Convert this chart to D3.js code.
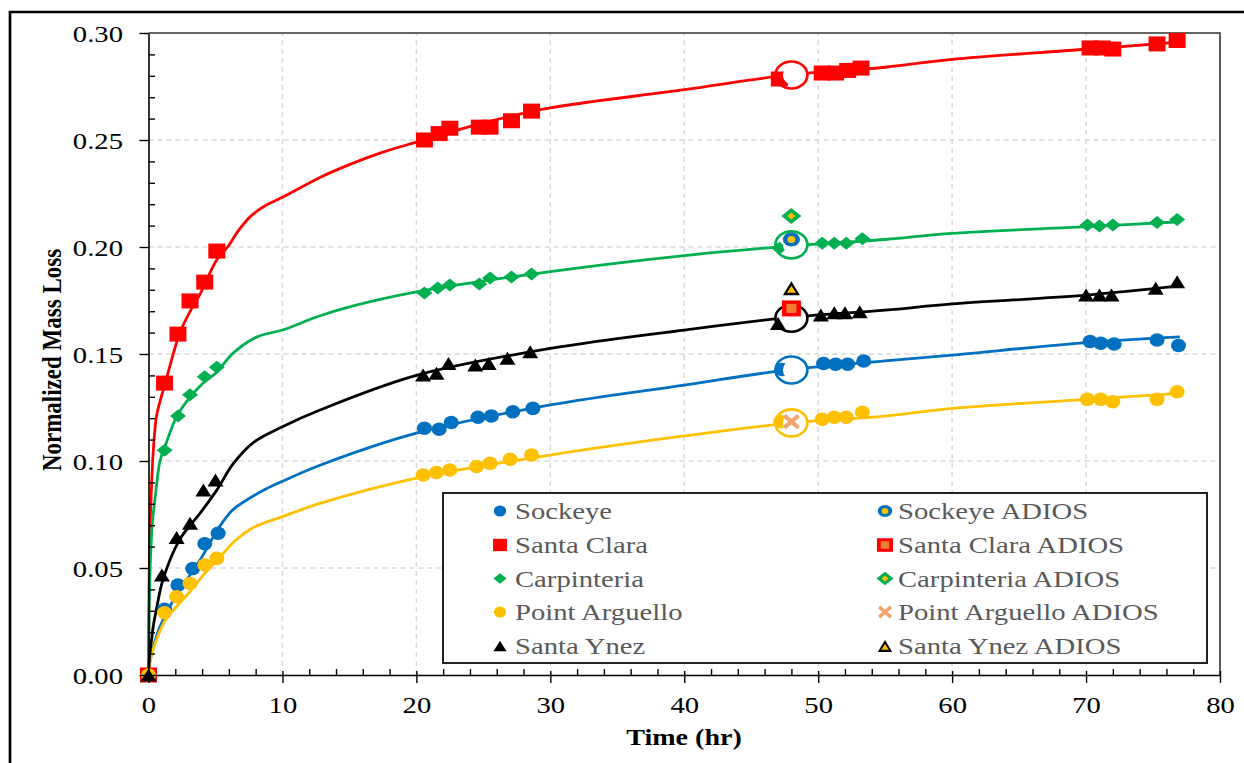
<!DOCTYPE html>
<html>
<head>
<meta charset="utf-8">
<script src="https://cdn.jsdelivr.net/npm/d3@7"></script>
<style>
  html, body { margin: 0; padding: 0; background: #fff; }
  svg { display: block; }
  text { font-family: "Liberation Serif", "Times New Roman", serif; }
</style>
</head>
<body>
<svg id="chart" width="1244" height="763"></svg>
<script>
// ---------------- DATA ----------------
const xTicks = [0, 10, 20, 30, 40, 50, 60, 70, 80];
const yTicks = [0, 0.05, 0.10, 0.15, 0.20, 0.25, 0.30];

const seriesNames = ["Sockeye", "Santa Clara", "Carpinteria", "Point Arguello", "Santa Ynez"];
const seriesColors = ["#0070C0", "#FF0000", "#00B050", "#FFC000", "#000000"];
const seriesShapes = ["circle", "square", "diamond", "circle", "triangle"];

const sockeyeT = [0, 1.2, 2.2, 3.3, 4.2, 5.2, 20.6, 21.7, 22.6, 24.6, 25.6, 27.2, 28.7, 47.3, 50.4, 51.3, 52.2, 53.4, 70.3, 71.1, 72.1, 75.3, 76.9];
const sockeyeV = [0, 0.0307, 0.042, 0.0498, 0.0613, 0.0662, 0.1153, 0.1148, 0.118, 0.1204, 0.121, 0.123, 0.1246, 0.1428, 0.1456, 0.1452, 0.1452, 0.1467, 0.1558, 0.155, 0.1547, 0.1565, 0.154];

const santaClaraT = [0, 1.2, 2.2, 3.1, 4.2, 5.1, 20.6, 21.7, 22.5, 24.7, 25.5, 27.1, 28.6, 47.1, 50.3, 51.3, 52.2, 53.2, 70.3, 71.2, 72.0, 75.3, 76.8];
const santaClaraV = [0, 0.1364, 0.1593, 0.1748, 0.1836, 0.1981, 0.250, 0.253, 0.2555, 0.256, 0.256, 0.259, 0.2635, 0.2785, 0.2813, 0.2813, 0.2825, 0.2836, 0.293, 0.293, 0.2925, 0.2949, 0.2965];

const carpinteriaT = [0, 1.2, 2.2, 3.1, 4.2, 5.1, 20.6, 21.6, 22.5, 24.7, 25.5, 27.1, 28.6, 47.1, 50.3, 51.2, 52.1, 53.3, 70.1, 71.0, 72.0, 75.3, 76.8];
const carpinteriaV = [0, 0.105, 0.121, 0.131, 0.1394, 0.1438, 0.1785, 0.1808, 0.1822, 0.1827, 0.1855, 0.186, 0.1874, 0.1994, 0.2017, 0.2017, 0.2017, 0.2039, 0.2103, 0.2098, 0.2103, 0.2114, 0.2129];

const pointArguelloT = [0, 1.2, 2.1, 3.1, 4.2, 5.1, 20.5, 21.5, 22.5, 24.5, 25.5, 27.0, 28.6, 47.2, 50.3, 51.2, 52.1, 53.3, 70.1, 71.1, 72.0, 75.3, 76.8];
const pointArguelloV = [0, 0.0291, 0.0366, 0.0428, 0.0514, 0.0545, 0.0935, 0.0946, 0.0958, 0.0974, 0.0989, 0.1008, 0.1028, 0.1184, 0.1195, 0.1204, 0.1204, 0.1228, 0.1288, 0.1288, 0.1277, 0.1288, 0.1324];

const santaYnezT = [0, 1.0, 2.1, 3.1, 4.1, 5.0, 20.5, 21.5, 22.4, 24.4, 25.4, 26.8, 28.5, 47.0, 50.2, 51.2, 52.0, 53.1, 70.0, 71.0, 71.9, 75.2, 76.8];
const santaYnezV = [0, 0.0467, 0.0643, 0.0709, 0.0864, 0.0911, 0.1402, 0.141, 0.1456, 0.1449, 0.1456, 0.148, 0.151, 0.1643, 0.1682, 0.1693, 0.1693, 0.1698, 0.1776, 0.1776, 0.1776, 0.1807, 0.1838];

// fitted curves
const sockeyeFitT = [0, 0.1, 0.36, 0.86, 1.85, 3.85, 5.3, 6.3, 7.6, 8.8, 10, 12.8, 20, 30, 40, 48, 55, 60, 70, 77];
const sockeyeFitV = [0, 0.006, 0.013, 0.0226, 0.035, 0.0537, 0.0693, 0.0772, 0.0828, 0.087, 0.0905, 0.098, 0.113, 0.1262, 0.1355, 0.1428, 0.1468, 0.1495, 0.1553, 0.158];

const santaClaraFitT = [0, 0.05, 0.12, 0.24, 0.36, 0.6, 1.0, 1.36, 2.35, 3.2, 3.85, 5.1, 5.9, 6.7, 7.6, 8.8, 10, 12.8, 15, 17.5, 20, 25, 30, 40, 48, 55, 60, 70, 77];
const santaClaraFitV = [0, 0.045, 0.07, 0.09, 0.105, 0.121, 0.131, 0.139, 0.16, 0.171, 0.178, 0.194, 0.2, 0.2075, 0.2142, 0.2196, 0.2232, 0.2325, 0.2385, 0.2443, 0.249, 0.258, 0.265, 0.2735, 0.2805, 0.284, 0.2877, 0.2924, 0.2958];

const carpinteriaFitT = [0, 0.05, 0.15, 0.3, 0.5, 0.86, 1.3, 2.1, 3.0, 4.0, 5.1, 6.3, 8.1, 10, 12.6, 15, 20, 30, 40, 48, 55, 60, 70, 77];
const carpinteriaFitV = [0, 0.03, 0.055, 0.072, 0.083, 0.1, 0.108, 0.1207, 0.129, 0.136, 0.1415, 0.1503, 0.158, 0.1612, 0.1674, 0.172, 0.179, 0.1885, 0.196, 0.2005, 0.2035, 0.2064, 0.2095, 0.2118];

const pointArguelloFitT = [0, 0.1, 0.4, 1.2, 2.1, 3.1, 4.2, 5.1, 6.5, 7.8, 10, 12.8, 20, 30, 40, 48, 55, 60, 70, 77];
const pointArguelloFitV = [0, 0.006, 0.013, 0.025, 0.032, 0.039, 0.0475, 0.0535, 0.063, 0.0688, 0.074, 0.0802, 0.092, 0.1028, 0.1117, 0.1178, 0.121, 0.1246, 0.1288, 0.1316];

const santaYnezFitT = [0, 0.1, 0.24, 0.36, 0.6, 1.1, 2.35, 3.85, 5.1, 6.3, 7.8, 10, 12.8, 20, 30, 40, 48, 55, 60, 70, 77];
const santaYnezFitV = [0, 0.01, 0.017, 0.023, 0.031, 0.045, 0.0635, 0.0756, 0.0864, 0.0985, 0.1085, 0.116, 0.1238, 0.14, 0.1526, 0.1612, 0.1672, 0.1705, 0.1734, 0.1775, 0.1818];

// ADIOS values at 48 h
const adiosNames = ["Sockeye ADIOS", "Santa Clara ADIOS", "Carpinteria ADIOS", "Point Arguello ADIOS", "Santa Ynez ADIOS"];
const adiosT = [48, 48, 48, 48, 48];
const adiosV = [0.2035, 0.1713, 0.2145, 0.1184, 0.1807];

// highlighted 48 h points on each fitted curve (open rings)
const ringT = [48, 48, 48, 48, 48];
const ringV = [0.1425, 0.2804, 0.201, 0.1178, 0.1667];

// ---------------- SETUP ----------------
const SX = 1.22; // horizontal stretch of glyphs in the reference
const FS = 23.5;
const svg = d3.select("#chart");
const x = d3.scaleLinear().domain([0, 80]).range([148.5, 1220]);
const y = d3.scaleLinear().domain([0, 0.30]).range([675, 33]);

const seriesT = [sockeyeT, santaClaraT, carpinteriaT, pointArguelloT, santaYnezT];
const seriesV = [sockeyeV, santaClaraV, carpinteriaV, pointArguelloV, santaYnezV];
const fitT = [sockeyeFitT, santaClaraFitT, carpinteriaFitT, pointArguelloFitT, santaYnezFitT];
const fitV = [sockeyeFitV, santaClaraFitV, carpinteriaFitV, pointArguelloFitV, santaYnezFitV];

function shapePath(type, w, h) {
  switch (type) {
    case "circle": return `M${-w/2},0A${w/2},${h/2} 0 1,0 ${w/2},0A${w/2},${h/2} 0 1,0 ${-w/2},0Z`;
    case "square": return `M${-w/2},${-h/2}H${w/2}V${h/2}H${-w/2}Z`;
    case "diamond": return `M0,${-h/2}L${w/2},0L0,${h/2}L${-w/2},0Z`;
    case "triangle": return `M0,${-h/2}L${w/2},${h/2}L${-w/2},${h/2}Z`;
  }
}
const markerSize = {
  circle: [15, 13.5], square: [17, 15], diamond: [16, 13], triangle: [16, 13]
};

// outer border
svg.append("path").attr("d", "M10,763V12H1244").attr("fill", "none")
  .attr("stroke", "#000").attr("stroke-width", 2.7);

// ---------------- GRID ----------------
const grid = svg.append("g");
grid.selectAll("line.gx").data(xTicks.filter(d => d > 0 && d < 80)).enter()
  .append("line").attr("x1", d => x(d)).attr("x2", d => x(d))
  .attr("y1", y(0)).attr("y2", y(0.30))
  .attr("stroke", "#D9D9D9").attr("stroke-width", 1.5).attr("stroke-dasharray", "5,4");
grid.selectAll("line.gy").data(yTicks.filter(d => d > 0 && d < 0.3)).enter()
  .append("line").attr("y1", d => y(d)).attr("y2", d => y(d))
  .attr("x1", x(0)).attr("x2", x(80))
  .attr("stroke", "#D9D9D9").attr("stroke-width", 1.5).attr("stroke-dasharray", "5,4");

// plot frame (top + right)
svg.append("path").attr("d", `M${x(0)},${y(0.30)}H${x(80)}V${y(0)}`)
  .attr("fill", "none").attr("stroke", "#333").attr("stroke-width", 1.6);

// ---------------- FIT LINES ----------------
const line = d3.line().x(d => x(d[0])).y(d => y(d[1])).curve(d3.curveCatmullRom.alpha(0.5));
seriesNames.forEach((n, i) => {
  const pts = fitT[i].map((t, k) => [t, fitV[i][k]]);
  svg.append("path").attr("d", line(pts)).attr("fill", "none")
    .attr("stroke", seriesColors[i]).attr("stroke-width", 2.8);
});

// ring white fills (hide the line inside)
seriesNames.forEach((n, i) => {
  svg.append("ellipse").attr("cx", x(ringT[i])).attr("cy", y(ringV[i]))
    .attr("rx", 16).attr("ry", 13.5).attr("fill", "#fff");
});

// ---------------- DATA MARKERS ----------------
seriesNames.forEach((n, i) => {
  const [w, h] = markerSize[seriesShapes[i]];
  svg.append("g").selectAll("path").data(seriesT[i].map((t, k) => [t, seriesV[i][k]]))
    .enter().append("path")
    .attr("transform", d => `translate(${x(d[0])},${y(d[1])})`)
    .attr("d", shapePath(seriesShapes[i], w, h))
    .attr("fill", seriesColors[i]);
});

// rings: inner white + stroke
seriesNames.forEach((n, i) => {
  svg.append("ellipse").attr("cx", x(ringT[i]) + 1).attr("cy", y(ringV[i]))
    .attr("rx", 9.5).attr("ry", 9.5).attr("fill", "#fff");
  svg.append("ellipse").attr("cx", x(ringT[i])).attr("cy", y(ringV[i]))
    .attr("rx", 16).attr("ry", 13.5).attr("fill", "none")
    .attr("stroke", seriesColors[i]).attr("stroke-width", 2.6);
});

// ---------------- ADIOS MARKERS ----------------
function drawAdios(g, i, cx, cy, s) {
  const gg = g.append("g").attr("transform", `translate(${cx},${cy}) scale(${s})`);
  if (i === 0) {
    gg.append("path").attr("d", shapePath("circle", 17, 14)).attr("fill", "#0070C0");
    gg.append("path").attr("d", shapePath("circle", 8, 7)).attr("fill", "#FFC000");
  } else if (i === 1) {
    gg.append("path").attr("d", shapePath("square", 19, 16)).attr("fill", "#FF0000");
    gg.append("path").attr("d", shapePath("square", 10, 9)).attr("fill", "#ED7D31");
  } else if (i === 2) {
    gg.append("path").attr("d", shapePath("diamond", 20, 16)).attr("fill", "#00B050");
    gg.append("path").attr("d", shapePath("diamond", 8, 7)).attr("fill", "#FFC000");
  } else if (i === 3) {
    gg.append("path").attr("d", "M-7,-6L7,6M-7,6L7,-6").attr("stroke", "#F4A26E")
      .attr("stroke-width", 4).attr("fill", "none");
  } else {
    gg.append("path").attr("d", shapePath("triangle", 17, 14)).attr("fill", "#000");
    gg.append("path").attr("d", "M0,-2.5L4.5,4.5L-4.5,4.5Z").attr("fill", "#FFC000");
  }
}
adiosNames.forEach((n, i) => drawAdios(svg, i, x(adiosT[i]), y(adiosV[i]), 1));

// ---------------- AXES ----------------
const yAxis = svg.append("g").attr("transform", `translate(${x(0)},0)`);
yAxis.call(d3.axisLeft(y).tickValues(yTicks).tickSizeInner(9).tickSizeOuter(0).tickFormat(d3.format(".2f")));
const yMinor = d3.range(1, 30).map(d => d / 100).filter(d => Math.round(d * 100) % 5 !== 0);
svg.append("g").attr("transform", `translate(${x(0)},0)`)
  .call(d3.axisLeft(y).tickValues(yMinor).tickSizeInner(-6.5).tickSizeOuter(0).tickFormat(""))
  .select(".domain").remove();

const xAxis = svg.append("g").attr("transform", `translate(0,${y(0)})`);
xAxis.call(d3.axisBottom(x).tickValues(xTicks).tickSizeInner(8).tickSizeOuter(0).tickFormat(d3.format("d")));
svg.append("g").attr("transform", `translate(0,${y(0)})`)
  .call(d3.axisBottom(x).tickValues(xTicks).tickSizeInner(-4).tickSizeOuter(0).tickFormat(""))
  .select(".domain").remove();
const xMinor = d3.range(2, 80, 2).filter(d => d % 10 !== 0);
svg.append("g").attr("transform", `translate(0,${y(0)})`)
  .call(d3.axisBottom(x).tickValues(xMinor).tickSizeInner(-6).tickSizeOuter(0).tickFormat(""))
  .select(".domain").remove();

svg.selectAll(".domain").attr("stroke", "#000").attr("stroke-width", 1.6);
svg.selectAll(".tick line").attr("stroke", "#000").attr("stroke-width", 1.4);

yAxis.selectAll(".tick text")
  .attr("x", -25.5 / SX).attr("dy", null).attr("y", 8.5)
  .attr("transform", `scale(${SX},1)`)
  .attr("font-size", FS).attr("fill", "#000");
xAxis.selectAll(".tick text")
  .attr("dy", null).attr("y", 38)
  .attr("transform", `scale(${SX},1)`)
  .attr("font-size", FS).attr("fill", "#000");
svg.selectAll(".tick text").style("font-family", "'Liberation Serif', 'Times New Roman', serif");

// axis titles
svg.append("text").attr("transform", `translate(61,360) scale(${SX},1) rotate(-90)`)
  .attr("text-anchor", "middle").attr("font-size", 23).attr("font-weight", "bold")
  .text("Normalized Mass Loss");
svg.append("text").attr("transform", `translate(684,745) scale(${SX},1)`)
  .attr("text-anchor", "middle").attr("font-size", 23).attr("font-weight", "bold")
  .text("Time (hr)");

// ---------------- LEGEND ----------------
const leg = svg.append("g");
leg.append("rect").attr("x", 443).attr("y", 493).attr("width", 764).attr("height", 170)
  .attr("fill", "#fff").attr("stroke", "#222").attr("stroke-width", 2);
const rowY = [511, 545, 578.5, 612, 646];
seriesNames.forEach((n, i) => {
  const sh = seriesShapes[i];
  const [w, h] = markerSize[sh];
  leg.append("path").attr("transform", `translate(500,${rowY[i]}) scale(0.82)`)
    .attr("d", shapePath(sh, w, h)).attr("fill", seriesColors[i]);
  leg.append("text").attr("transform", `translate(515,${rowY[i] + 8}) scale(${SX},1)`)
    .attr("font-size", FS).attr("fill", "#595959").text(n);
  drawAdios(leg, i, 885, rowY[i], 0.85);
  leg.append("text").attr("transform", `translate(898,${rowY[i] + 8}) scale(${SX},1)`)
    .attr("font-size", FS).attr("fill", "#595959").text(adiosNames[i]);
});
</script>
</body>
</html>
